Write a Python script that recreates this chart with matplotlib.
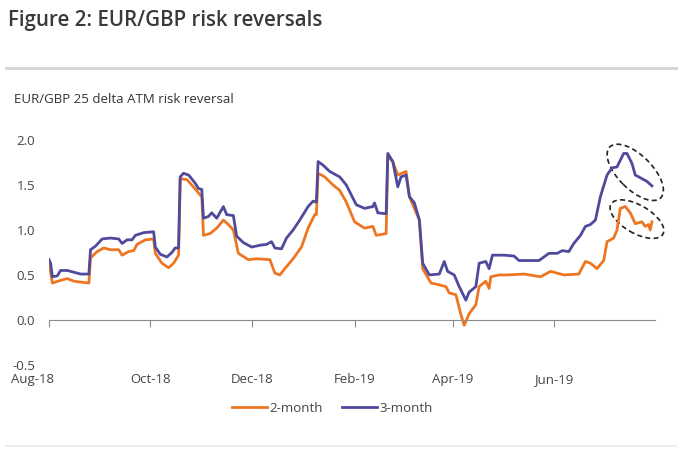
import matplotlib
matplotlib.use('Agg')
import matplotlib.pyplot as plt
import matplotlib.dates as mdates
import matplotlib.transforms as mtransforms
from matplotlib.patches import Ellipse
from matplotlib.lines import Line2D
import pandas as pd

# 3-month risk reversal
dates_3m = ['2018-08-01', '2018-08-02', '2018-08-03', '2018-08-06', '2018-08-08', '2018-08-12',
            '2018-08-16', '2018-08-20', '2018-08-25', '2018-08-26', '2018-08-29', '2018-09-02',
            '2018-09-07', '2018-09-12', '2018-09-14', '2018-09-17', '2018-09-20', '2018-09-22',
            '2018-09-27', '2018-10-03', '2018-10-04', '2018-10-07', '2018-10-11', '2018-10-14',
            '2018-10-16', '2018-10-18', '2018-10-19', '2018-10-21', '2018-10-24', '2018-10-25',
            '2018-10-28', '2018-10-30', '2018-11-01', '2018-11-02', '2018-11-05', '2018-11-07',
            '2018-11-10', '2018-11-14', '2018-11-16', '2018-11-20', '2018-11-22', '2018-11-26',
            '2018-12-01', '2018-12-06', '2018-12-10', '2018-12-13', '2018-12-15', '2018-12-19',
            '2018-12-22', '2018-12-26', '2018-12-30', '2019-01-04', '2019-01-07', '2019-01-09',
            '2019-01-10', '2019-01-13', '2019-01-17', '2019-01-23', '2019-01-27', '2019-02-02',
            '2019-02-07', '2019-02-12', '2019-02-13', '2019-02-15', '2019-02-20', '2019-02-21',
            '2019-02-24', '2019-02-27', '2019-03-01', '2019-03-04', '2019-03-06', '2019-03-09',
            '2019-03-12', '2019-03-14', '2019-03-18', '2019-03-24', '2019-03-27', '2019-03-29',
            '2019-04-02', '2019-04-05', '2019-04-09', '2019-04-11', '2019-04-15', '2019-04-17',
            '2019-04-21', '2019-04-23', '2019-04-25', '2019-05-02', '2019-05-08', '2019-05-11',
            '2019-05-23', '2019-05-29', '2019-06-03', '2019-06-06', '2019-06-10', '2019-06-13',
            '2019-06-17', '2019-06-20', '2019-06-23', '2019-06-26', '2019-06-29', '2019-07-03',
            '2019-07-06', '2019-07-09', '2019-07-13', '2019-07-15', '2019-07-18', '2019-07-20',
            '2019-07-24', '2019-07-27', '2019-07-30']
rr_3m = [0.67, 0.63, 0.48, 0.49, 0.55, 0.55,
         0.53, 0.51, 0.51, 0.78, 0.82, 0.90,
         0.91, 0.90, 0.85, 0.89, 0.89, 0.94,
         0.97, 0.98, 0.81, 0.73, 0.70, 0.75,
         0.80, 0.80, 1.59, 1.63, 1.61, 1.59,
         1.52, 1.46, 1.45, 1.13, 1.15, 1.19,
         1.13, 1.26, 1.17, 1.16, 0.93, 0.86,
         0.81, 0.83, 0.84, 0.87, 0.80, 0.79,
         0.91, 1.00, 1.11, 1.26, 1.32, 1.31,
         1.76, 1.72, 1.65, 1.59, 1.50, 1.28,
         1.24, 1.26, 1.30, 1.19, 1.18, 1.85,
         1.76, 1.48, 1.59, 1.61, 1.37, 1.30,
         1.11, 0.63, 0.50, 0.51, 0.65, 0.54,
         0.50, 0.37, 0.22, 0.31, 0.37, 0.63,
         0.65, 0.57, 0.72, 0.72, 0.71, 0.66,
         0.66, 0.74, 0.74, 0.77, 0.76, 0.85,
         0.94, 1.04, 1.06, 1.11, 1.37, 1.61,
         1.69, 1.70, 1.85, 1.85, 1.74, 1.61,
         1.57, 1.54, 1.49]

# 2-month risk reversal
dates_2m = ['2018-08-01', '2018-08-03', '2018-08-08', '2018-08-12', '2018-08-16', '2018-08-25',
            '2018-08-26', '2018-08-30', '2018-09-03', '2018-09-07', '2018-09-12', '2018-09-14',
            '2018-09-18', '2018-09-21', '2018-09-23', '2018-09-28', '2018-10-03', '2018-10-04',
            '2018-10-08', '2018-10-12', '2018-10-15', '2018-10-18', '2018-10-19', '2018-10-23',
            '2018-10-25', '2018-10-31', '2018-11-01', '2018-11-02', '2018-11-06', '2018-11-10',
            '2018-11-14', '2018-11-17', '2018-11-20', '2018-11-23', '2018-11-29', '2018-12-04',
            '2018-12-12', '2018-12-15', '2018-12-18', '2018-12-21', '2018-12-26', '2018-12-31',
            '2019-01-04', '2019-01-08', '2019-01-09', '2019-01-10', '2019-01-14', '2019-01-19',
            '2019-01-23', '2019-01-27', '2019-02-01', '2019-02-07', '2019-02-12', '2019-02-14',
            '2019-02-20', '2019-02-21', '2019-02-24', '2019-02-27', '2019-03-04', '2019-03-06',
            '2019-03-12', '2019-03-14', '2019-03-19', '2019-03-24', '2019-03-28', '2019-03-30',
            '2019-04-03', '2019-04-06', '2019-04-08', '2019-04-11', '2019-04-15', '2019-04-17',
            '2019-04-21', '2019-04-23', '2019-04-24', '2019-04-29', '2019-05-04', '2019-05-14',
            '2019-05-24', '2019-05-30', '2019-06-07', '2019-06-16', '2019-06-20', '2019-06-23',
            '2019-06-27', '2019-07-01', '2019-07-03', '2019-07-07', '2019-07-09', '2019-07-11',
            '2019-07-14', '2019-07-17', '2019-07-20', '2019-07-24', '2019-07-26', '2019-07-28',
            '2019-07-29', '2019-07-30']
rr_2m = [0.65, 0.41, 0.44, 0.46, 0.43, 0.41,
         0.69, 0.76, 0.80, 0.78, 0.78, 0.72,
         0.76, 0.77, 0.84, 0.89, 0.90, 0.74,
         0.63, 0.58, 0.63, 0.72, 1.57, 1.56,
         1.52, 1.39, 1.37, 0.94, 0.96, 1.02,
         1.11, 1.06, 1.00, 0.74, 0.67, 0.68,
         0.67, 0.52, 0.50, 0.57, 0.68, 0.81,
         1.02, 1.17, 1.17, 1.63, 1.59, 1.50,
         1.44, 1.31, 1.09, 1.02, 1.04, 0.94,
         0.96, 1.82, 1.76, 1.61, 1.65, 1.37,
         1.11, 0.57, 0.41, 0.39, 0.37, 0.30,
         0.28, 0.06, -0.06, 0.07, 0.17, 0.37,
         0.43, 0.35, 0.48, 0.50, 0.50, 0.51,
         0.48, 0.54, 0.50, 0.51, 0.65, 0.63,
         0.57, 0.66, 0.87, 0.91, 1.00, 1.24,
         1.26, 1.19, 1.07, 1.09, 1.04, 1.06,
         1.00, 1.09]

tick_dates = ['2018-08-01', '2018-10-01', '2018-12-01', '2019-02-01', '2019-04-01', '2019-06-01']
tick_labels = ['Aug-18', 'Oct-18', 'Dec-18', 'Feb-19', 'Apr-19', 'Jun-19']
y_ticks = [-0.5, 0.0, 0.5, 1.0, 1.5, 2.0]

orange = '#EE7623'
purple = '#4F4A9B'
plt.rcParams['font.family'] = ['Open Sans', 'DejaVu Sans']

fig = plt.figure(figsize=(7, 4.5), dpi=100)
ax = fig.add_axes([0.07, 0.189, 0.866, 0.5])

d2 = pd.to_datetime(dates_2m)
d3 = pd.to_datetime(dates_3m)
ax.plot(d2, rr_2m, color=orange, lw=2, label='2-month')
ax.plot(d3, rr_3m, color=purple, lw=2, label='3-month')

ax.set_xlim(pd.Timestamp('2018-08-01'), pd.Timestamp('2019-08-01'))
ax.set_ylim(-0.5, 2.0)
ax.set_yticks(y_ticks)
ax.set_yticklabels(['%.1f' % v for v in y_ticks])
ax.tick_params(axis='y', length=0, labelsize=9.5, colors='#444444', pad=10)

# x axis sits at zero, labels at the bottom of the plot area
for s in ['top', 'right', 'left']:
    ax.spines[s].set_visible(False)
ax.spines['bottom'].set_position(('data', 0))
ax.spines['bottom'].set_color('#8c8c8c')
ax.set_xticks(pd.to_datetime(tick_dates))
ax.set_xticklabels([])
ax.tick_params(axis='x', length=5, color='#8c8c8c', direction='out')
trans = mtransforms.blended_transform_factory(ax.transData, ax.transAxes)
for td, lab in zip(pd.to_datetime(tick_dates), tick_labels):
    x = mdates.date2num(td)
    ha = 'center'
    if lab == 'Aug-18':
        ha = 'right'
        x = x + 3
    ax.text(x, -0.035, lab, transform=trans, ha=ha, va='top', fontsize=9.5, color='#444444')

# dashed ellipses round the latest moves
ell_specs = [('2019-07-20', 1.64, 0.72, 0.34, -45), ('2019-07-21', 1.12, 0.60, 0.28, -30)]
for d, v, w, h, ang in ell_specs:
    off = mtransforms.ScaledTranslation(mdates.date2num(pd.Timestamp(d)), v, ax.transData)
    e = Ellipse((0, 0), w, h, angle=ang, fill=False, ls=(0, (3, 2)), lw=1.2, ec='#222222',
                transform=fig.dpi_scale_trans + off, clip_on=False)
    ax.add_patch(e)

handles = [Line2D([], [], color=orange, lw=2), Line2D([], [], color=purple, lw=2)]
fig.legend(handles, ['2-month', '3-month'], loc='center', bbox_to_anchor=(0.475, 0.093), ncol=2,
           frameon=False, fontsize=9.5, handlelength=2.6, handletextpad=0.2, columnspacing=1.5,
           labelcolor='#444444')

fig.text(0.012, 0.955, 'Figure 2: EUR/GBP risk reversals', fontsize=14.8, fontweight='semibold',
         color='#3a3a3a', va='center')
fig.add_artist(Line2D([0.008, 0.965], [0.849, 0.849], color='#d4d4d4', lw=2))
fig.add_artist(Line2D([0.008, 0.965], [0.01, 0.01], color='#ececec', lw=1.5))
fig.text(0.02, 0.778, 'EUR/GBP 25 delta ATM risk reversal', fontsize=9.5, color='#333333',
         va='center')

plt.savefig('out.png', dpi=100)
